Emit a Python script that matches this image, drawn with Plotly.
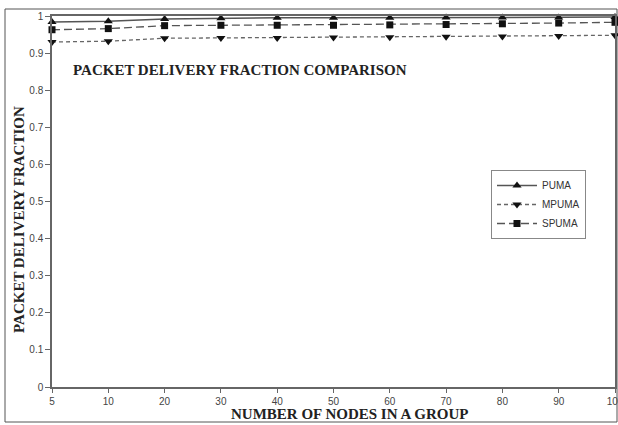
import plotly.graph_objects as go

nodes = ["5", "10", "20", "30", "40", "50", "60", "70", "80", "90", "100"]
puma = [0.984, 0.986, 0.992, 0.994, 0.995, 0.995, 0.995, 0.996, 0.996, 0.996, 0.997]
mpuma = [0.930, 0.932, 0.940, 0.941, 0.941, 0.942, 0.943, 0.944, 0.945, 0.946, 0.948]
spuma = [0.963, 0.966, 0.974, 0.975, 0.975, 0.975, 0.976, 0.977, 0.979, 0.981, 0.983]
y_ticks = [0, 0.1, 0.2, 0.3, 0.4, 0.5, 0.6, 0.7, 0.8, 0.9, 1]
y_ticktext = ["0", "0.1", "0.2", "0.3", "0.4", "0.5", "0.6", "0.7", "0.8", "0.9", "1"]

fig = go.Figure()
fig.add_trace(go.Scatter(
    x=nodes, y=puma, name="PUMA", mode="lines+markers",
    line=dict(color="#555555", width=1.5, dash="solid"),
    marker=dict(symbol="triangle-up", size=8, color="#111111"),
    cliponaxis=False))
fig.add_trace(go.Scatter(
    x=nodes, y=mpuma, name="MPUMA", mode="lines+markers",
    line=dict(color="#666666", width=1.3, dash="4px,3px"),
    marker=dict(symbol="triangle-down", size=8, color="#111111"),
    cliponaxis=False))
fig.add_trace(go.Scatter(
    x=nodes, y=spuma, name="SPUMA", mode="lines+markers",
    line=dict(color="#555555", width=1.3, dash="8px,4px"),
    marker=dict(symbol="square", size=7, color="#111111"),
    cliponaxis=False))

L, T, W, H = 52, 16, 563, 371

def px(x):
    return (x - L) / W

def py(y):
    return (T + H - y) / H

fig.update_layout(
    width=618, height=425,
    margin=dict(l=L, r=618 - L - W, t=T, b=425 - T - H, pad=0, autoexpand=False),
    paper_bgcolor="white", plot_bgcolor="white",
    showlegend=True,
    legend=dict(
        x=px(491), y=py(170), xanchor="left", yanchor="top",
        bgcolor="white", bordercolor="#888888", borderwidth=1,
        font=dict(family="Liberation Sans Narrow, Arial Narrow, Arial", size=10, color="#333333"),
        tracegroupgap=0, itemwidth=40,
    ),
    xaxis=dict(
        type="category", range=[0, 10], showgrid=False, zeroline=False,
        showline=True, linecolor="#666666", linewidth=1.5, mirror=True,
        ticks="outside", ticklen=4, tickcolor="#666666",
        tickfont=dict(family="Liberation Sans Narrow, Arial Narrow, Arial", size=10, color="#444444"),
    ),
    yaxis=dict(
        range=[0, 1], tickvals=y_ticks, ticktext=y_ticktext, showgrid=False, zeroline=False,
        showline=True, linecolor="#666666", linewidth=1.5, mirror=True,
        ticks="outside", ticklen=5, tickcolor="#666666",
        tickfont=dict(family="Liberation Sans Narrow, Arial Narrow, Arial", size=10, color="#444444"),
    ),
    annotations=[
        dict(text="<b>PACKET DELIVERY FRACTION COMPARISON</b>", xref="paper", yref="paper",
             x=px(71), y=py(70), xanchor="left", yanchor="middle", showarrow=False,
             font=dict(family="Liberation Serif, Times New Roman", size=15, color="#222222")),
        dict(text="<b>NUMBER OF NODES IN A GROUP</b>", xref="paper", yref="paper",
             x=px(349), y=py(414), xanchor="center", yanchor="middle", showarrow=False,
             font=dict(family="Liberation Serif, Times New Roman", size=15, color="#222222")),
        dict(text="<b>PACKET DELIVERY FRACTION</b>", xref="paper", yref="paper",
             x=px(19), y=py(220), xanchor="center", yanchor="middle", showarrow=False, textangle=-90,
             font=dict(family="Liberation Serif, Times New Roman", size=15, color="#222222")),
    ],
    shapes=[
        dict(type="rect", xref="paper", yref="paper",
             x0=px(5), x1=px(617), y0=py(422), y1=py(9),
             line=dict(color="#555555", width=1), layer="below"),
    ],
)

fig.write_html(
    "out.html",
    config={"displayModeBar": False},
    post_script="document.body.style.margin='0';document.body.style.overflow='hidden';",
)
